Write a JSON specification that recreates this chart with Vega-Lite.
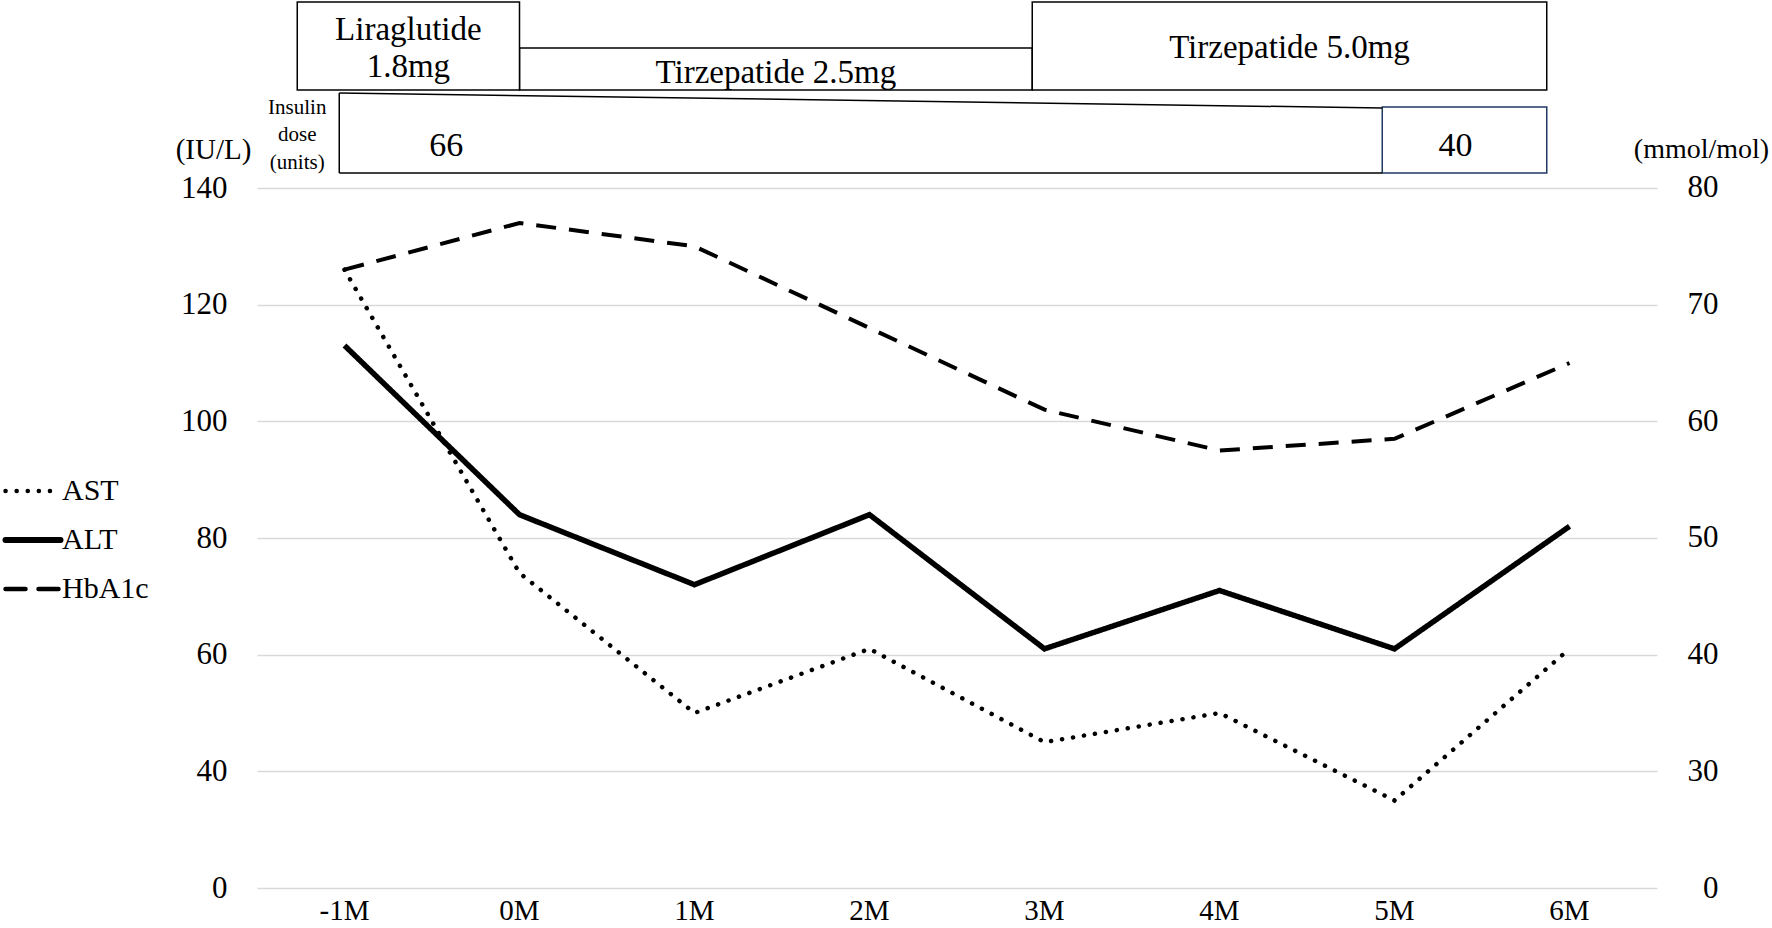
{
  "$schema": "https://vega.github.io/schema/vega-lite/v6.json",
  "width": 1400,
  "height": 888,
  "autosize": {"type": "none"},
  "padding": {"left": 257, "top": 0, "right": 115, "bottom": 40},
  "background": "white",
  "config": {
    "view": {"stroke": null},
    "font": "Liberation Serif",
    "text": {"font": "Liberation Serif", "color": "black"}
  },
  "datasets": {
    "labs": [
      {"t": -1, "series": "AST", "value": 126},
      {"t": 0, "series": "AST", "value": 74},
      {"t": 1, "series": "AST", "value": 50},
      {"t": 2, "series": "AST", "value": 61},
      {"t": 3, "series": "AST", "value": 45},
      {"t": 4, "series": "AST", "value": 50},
      {"t": 5, "series": "AST", "value": 35},
      {"t": 6, "series": "AST", "value": 61},
      {"t": -1, "series": "ALT", "value": 113},
      {"t": 0, "series": "ALT", "value": 84},
      {"t": 1, "series": "ALT", "value": 72},
      {"t": 2, "series": "ALT", "value": 84},
      {"t": 3, "series": "ALT", "value": 61},
      {"t": 4, "series": "ALT", "value": 71},
      {"t": 5, "series": "ALT", "value": 61},
      {"t": 6, "series": "ALT", "value": 82}
    ],
    "hba1c": [
      {"t": -1, "month": "-1M", "series": "HbA1c", "value": 73},
      {"t": 0, "month": "0M", "series": "HbA1c", "value": 77},
      {"t": 1, "month": "1M", "series": "HbA1c", "value": 75},
      {"t": 2, "month": "2M", "series": "HbA1c", "value": 68},
      {"t": 3, "month": "3M", "series": "HbA1c", "value": 61},
      {"t": 4, "month": "4M", "series": "HbA1c", "value": 57.5},
      {"t": 5, "month": "5M", "series": "HbA1c", "value": 58.5},
      {"t": 6, "month": "6M", "series": "HbA1c", "value": 65}
    ],
    "drugs": [
      {"drug": "Liraglutide\n1.8mg", "start": -1.27, "end": 0},
      {"drug": "Tirzepatide 2.5mg", "start": 0, "end": 2.93},
      {"drug": "Tirzepatide 5.0mg", "start": 2.93, "end": 5.87}
    ],
    "insulin": [
      {"dose": 66, "start": -1.03, "end": 4.93},
      {"dose": 40, "start": 4.93, "end": 5.87}
    ],
    "insulinLabel": [
      {"label": "Insulin\ndose\n(units)"}
    ]
  },
  "layer": [
    {
      "data": {"name": "labs"},
      "encoding": {
        "x": {
          "field": "t",
          "type": "quantitative",
          "scale": {"domain": [-1.5, 6.5], "nice": false, "zero": false},
          "axis": null
        },
        "y": {
          "field": "value",
          "type": "quantitative",
          "scale": {"domain": [20, 172.23], "nice": false, "zero": false},
          "axis": {
            "orient": "left",
            "values": [20, 40, 60, 80, 100, 120, 140],
            "labelExpr": "datum.value == 20 ? '0' : datum.label",
            "grid": true,
            "gridColor": "#d9d9d9",
            "gridWidth": 1.3,
            "domain": false,
            "ticks": false,
            "labelFontSize": 31,
            "labelFont": "Liberation Serif",
            "labelColor": "black",
            "labelPadding": 30,
            "title": "(IU/L)",
            "titleAngle": 0,
            "titleX": -44,
            "titleY": 149,
            "titleAlign": "center",
            "titleBaseline": "middle",
            "titleFontSize": 29,
            "titleFontWeight": "normal",
            "titleFont": "Liberation Serif",
            "titleColor": "black"
          }
        },
        "strokeDash": {
          "field": "series",
          "type": "nominal",
          "scale": {"domain": ["AST", "ALT", "HbA1c"], "range": [[0.1, 11], [1, 0], [20, 13]]},
          "legend": {
            "title": null,
            "orient": "none",
            "legendX": -239,
            "legendY": 476,
            "symbolType": "stroke",
            "symbolSize": 3025,
            "symbolStrokeWidth": 4.5,
            "symbolStrokeColor": "black",
            "labelFontSize": 30,
            "labelFont": "Liberation Serif",
            "labelColor": "black",
            "labelOffset": 14,
            "rowPadding": 19,
            "padding": 0,
            "offset": 0,
            "encode": {
              "symbols": {
                "update": {
                  "strokeCap": {"value": "round"},
                  "strokeWidth": {"signal": "datum.value === 'ALT' ? 6 : 4.5"}
                }
              }
            }
          }
        }
      },
      "layer": [
        {
          "transform": [{"filter": "datum.series === 'AST'"}],
          "mark": {"type": "line", "color": "black", "strokeWidth": 4.5, "strokeCap": "round"}
        },
        {
          "transform": [{"filter": "datum.series === 'ALT'"}],
          "mark": {"type": "line", "color": "black", "strokeWidth": 5.5, "strokeCap": "butt"}
        }
      ]
    },
    {
      "data": {"name": "hba1c"},
      "mark": {"type": "line", "color": "black", "strokeWidth": 4, "strokeCap": "butt"},
      "encoding": {
        "x": {"field": "t", "type": "quantitative", "axis": null},
        "y": {
          "field": "value",
          "type": "quantitative",
          "scale": {"domain": [20, 96.114], "nice": false, "zero": false},
          "axis": {
            "orient": "right",
            "values": [20, 30, 40, 50, 60, 70, 80],
            "labelExpr": "datum.value == 20 ? '0' : datum.label",
            "grid": false,
            "domain": false,
            "ticks": false,
            "labelFontSize": 31,
            "labelFont": "Liberation Serif",
            "labelColor": "black",
            "labelAlign": "right",
            "labelPadding": 61,
            "title": "(mmol/mol)",
            "titleAngle": 0,
            "titleX": 44,
            "titleY": 149,
            "titleAlign": "center",
            "titleBaseline": "middle",
            "titleFontSize": 28,
            "titleFontWeight": "normal",
            "titleFont": "Liberation Serif",
            "titleColor": "black"
          }
        },
        "strokeDash": {
          "field": "series",
          "type": "nominal",
          "scale": {"domain": ["AST", "ALT", "HbA1c"], "range": [[0.1, 11], [1, 0], [20, 13]]},
          "legend": {
            "title": null,
            "orient": "none",
            "legendX": -239,
            "legendY": 476,
            "symbolType": "stroke",
            "symbolSize": 3025,
            "symbolStrokeWidth": 4.5,
            "symbolStrokeColor": "black",
            "labelFontSize": 30,
            "labelFont": "Liberation Serif",
            "labelColor": "black",
            "labelOffset": 14,
            "rowPadding": 19,
            "padding": 0,
            "offset": 0,
            "encode": {
              "symbols": {
                "update": {
                  "strokeCap": {"value": "round"},
                  "strokeWidth": {"signal": "datum.value === 'ALT' ? 6 : 4.5"}
                }
              }
            }
          }
        }
      }
    },
    {
      "layer": [
        {
          "data": {"name": "drugs"},
          "transform": [{"filter": "datum.start == 0"}],
          "mark": {"type": "rect", "fill": "white", "stroke": "black", "strokeWidth": 1.5},
          "encoding": {
            "x": {"field": "start", "type": "quantitative", "axis": null},
            "x2": {"field": "end"},
            "y": {"datum": 5.405, "type": "quantitative", "scale": {"domain": [0, 100], "reverse": true, "nice": false, "zero": false}, "axis": null},
            "y2": {"datum": 10.135}
          }
        },
        {
          "data": {"name": "drugs"},
          "transform": [{"filter": "datum.start != 0"}],
          "mark": {"type": "rect", "fill": "white", "stroke": "black", "strokeWidth": 1.5},
          "encoding": {
            "x": {"field": "start", "type": "quantitative", "axis": null},
            "x2": {"field": "end"},
            "y": {"datum": 0.225, "type": "quantitative", "axis": null},
            "y2": {"datum": 10.135}
          }
        },
        {
          "data": {"name": "drugs"},
          "transform": [
            {"filter": "datum.start < 0"},
            {"calculate": "(datum.start + datum.end) / 2", "as": "mid"}
          ],
          "mark": {"type": "text", "fontSize": 33, "lineBreak": "\n", "lineHeight": 37, "align": "center", "baseline": "middle", "color": "black"},
          "encoding": {
            "x": {"field": "mid", "type": "quantitative", "axis": null},
            "y": {"datum": 3.38, "type": "quantitative", "axis": null},
            "text": {"field": "drug"}
          }
        },
        {
          "data": {"name": "drugs"},
          "transform": [
            {"filter": "datum.start > 0"},
            {"calculate": "(datum.start + datum.end) / 2", "as": "mid"}
          ],
          "mark": {"type": "text", "fontSize": 33, "align": "center", "baseline": "middle", "color": "black"},
          "encoding": {
            "x": {"field": "mid", "type": "quantitative", "axis": null},
            "y": {"datum": 5.4, "type": "quantitative", "axis": null},
            "text": {"field": "drug"}
          }
        },
        {
          "data": {"name": "drugs"},
          "transform": [
            {"filter": "datum.start == 0"},
            {"calculate": "(datum.start + datum.end) / 2", "as": "mid"}
          ],
          "mark": {"type": "text", "fontSize": 33, "align": "center", "baseline": "middle", "color": "black"},
          "encoding": {
            "x": {"field": "mid", "type": "quantitative", "axis": null},
            "y": {"datum": 8.22, "type": "quantitative", "axis": null},
            "text": {"field": "drug"}
          }
        },
        {
          "data": {"name": "insulin"},
          "transform": [{"filter": "datum.dose == 40"}],
          "mark": {"type": "rect", "fill": "white", "stroke": "#1f3864", "strokeWidth": 1.5},
          "encoding": {
            "x": {"field": "start", "type": "quantitative", "axis": null},
            "x2": {"field": "end"},
            "y": {"datum": 12.05, "type": "quantitative", "axis": null},
            "y2": {"datum": 19.48}
          }
        },
        {
          "data": {"name": "insulin"},
          "transform": [{"filter": "datum.dose == 66"}],
          "mark": {"type": "rule", "color": "black", "strokeWidth": 1.5},
          "encoding": {
            "x": {"field": "start", "type": "quantitative", "axis": null},
            "y": {"datum": 10.47, "type": "quantitative", "axis": null},
            "y2": {"datum": 19.48}
          }
        },
        {
          "data": {"name": "insulin"},
          "transform": [{"filter": "datum.dose == 66"}],
          "mark": {"type": "rule", "color": "black", "strokeWidth": 1.5},
          "encoding": {
            "x": {"field": "start", "type": "quantitative", "axis": null},
            "x2": {"field": "end"},
            "y": {"datum": 10.47, "type": "quantitative", "axis": null},
            "y2": {"datum": 12.16}
          }
        },
        {
          "data": {"name": "insulin"},
          "transform": [{"filter": "datum.dose == 66"}],
          "mark": {"type": "rule", "color": "black", "strokeWidth": 1.5},
          "encoding": {
            "x": {"field": "start", "type": "quantitative", "axis": null},
            "x2": {"field": "end"},
            "y": {"datum": 19.48, "type": "quantitative", "axis": null}
          }
        },
        {
          "data": {"name": "insulin"},
          "transform": [{"filter": "datum.dose == 66"}],
          "mark": {"type": "text", "fontSize": 34, "align": "center", "baseline": "middle", "dx": 107, "color": "black"},
          "encoding": {
            "x": {"field": "start", "type": "quantitative", "axis": null},
            "y": {"datum": 16.4, "type": "quantitative", "axis": null},
            "text": {"field": "dose"}
          }
        },
        {
          "data": {"name": "insulin"},
          "transform": [
            {"filter": "datum.dose == 40"},
            {"calculate": "(datum.start + datum.end) / 2", "as": "mid"}
          ],
          "mark": {"type": "text", "fontSize": 34, "align": "center", "baseline": "middle", "dx": -9, "color": "black"},
          "encoding": {
            "x": {"field": "mid", "type": "quantitative", "axis": null},
            "y": {"datum": 16.4, "type": "quantitative", "axis": null},
            "text": {"field": "dose"}
          }
        },
        {
          "data": {"name": "insulinLabel"},
          "mark": {"type": "text", "fontSize": 21, "lineBreak": "\n", "lineHeight": 27.5, "align": "center", "baseline": "middle", "color": "black"},
          "encoding": {
            "x": {"datum": -1.27, "type": "quantitative", "axis": null},
            "y": {"datum": 12.16, "type": "quantitative", "axis": null},
            "text": {"field": "label"}
          }
        },
        {
          "data": {"name": "hba1c"},
          "mark": {"type": "text", "fontSize": 29, "align": "center", "baseline": "middle", "color": "black"},
          "encoding": {
            "x": {"field": "t", "type": "quantitative", "axis": null},
            "y": {"datum": 102.6, "type": "quantitative", "axis": null},
            "text": {"field": "month"}
          }
        }
      ]
    }
  ],
  "resolve": {"scale": {"y": "independent"}, "axis": {"y": "independent"}}
}
